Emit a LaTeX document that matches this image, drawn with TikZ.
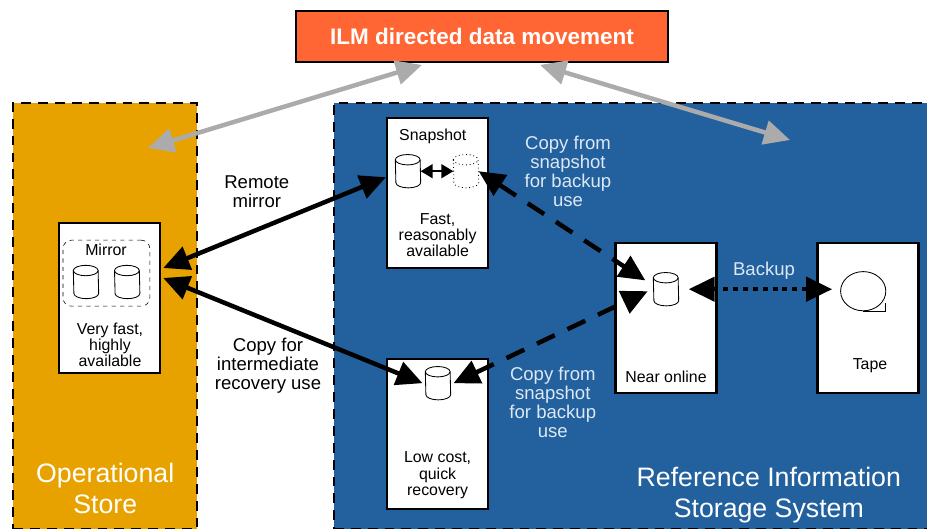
\documentclass[tikz,border=0pt]{standalone}
\usepackage{fontspec}
\setmainfont{Liberation Sans}
\usepackage{tikz}
\usetikzlibrary{shapes.geometric, arrows.meta}
\definecolor{ilmred}{HTML}{FF6633}
\definecolor{opstore}{HTML}{E8A200}
\definecolor{refstore}{HTML}{22609E}
\definecolor{movegray}{HTML}{ABABAB}
\definecolor{paletext}{HTML}{DDE8F4}
\tikzstyle{ilm} = [rectangle, draw=black, line width=1.6pt, fill=ilmred, text=white, font=\fontsize{16}{19}\selectfont\bfseries, minimum width=9.3cm, minimum height=1.27cm]
\tikzstyle{area} = [rectangle, draw=black, line width=1.8pt, dash pattern=on 7pt off 5pt]
\tikzstyle{store} = [rectangle, draw=black, line width=1.8pt, fill=white, minimum width=2.52cm, minimum height=3.75cm]
\tikzstyle{group} = [rectangle, rounded corners=6pt, draw=black, dashed, thin, minimum width=2.17cm, minimum height=1.65cm]
\tikzstyle{disk} = [rectangle, inner sep=0pt, minimum width=0.62cm, minimum height=0.82cm]
\tikzstyle{anno} = [align=center, font=\fontsize{11.3}{11.4}\selectfont]
\tikzstyle{label} = [align=center, font=\fontsize{13.2}{13.5}\selectfont]
\tikzstyle{title} = [align=center, text=white, font=\fontsize{19}{22}\selectfont]
\tikzstyle{link} = [line width=3.2pt, <->, >={Triangle[length=0.65cm,width=0.6cm]}]
\tikzstyle{move} = [line width=3.2pt, color=movegray, <->, >={Triangle[length=0.65cm,width=0.6cm]}]
\tikzstyle{diskline} = [draw=black, line width=0.6pt, fill=white]
% outline of a storage cylinder round a disk node
\newcommand{\drawdisk}[2]{
  \draw[diskline, #2] ([yshift=-0.13cm]#1.north west) arc[start angle=180, end angle=0, x radius=0.31cm, y radius=0.13cm] -- ([yshift=0.13cm]#1.south east) arc[start angle=0, end angle=-180, x radius=0.31cm, y radius=0.13cm] -- cycle;
  \draw[diskline, #2, fill=none] ([yshift=-0.13cm]#1.north west) arc[start angle=180, end angle=360, x radius=0.31cm, y radius=0.13cm];
}
\begin{document}
\begin{tikzpicture}
  \useasboundingbox (0,0) rectangle (23.175,-13.225);
  \node (orange) [area, fill=opstore, minimum width=4.6cm, minimum height=10.65cm] at (2.63,-7.9) {};
  \node (blue) [area, fill=refstore, minimum width=15.1cm, minimum height=10.65cm] at (15.9,-7.9) {};
  \node (ilm) [ilm] at (12.05,-0.91) {ILM directed data movement};
  \node (mirror) [store] at (2.74,-7.45) {};
  \node (snapshot) [store] at (10.94,-4.83) {};
  \node (low) [store] at (10.94,-10.85) {};
  \node (near) [store] at (16.65,-7.95) {};
  \node (tape) [store] at (21.7,-7.95) {};
  \node (mirrorgroup) [group] at (2.66,-6.83) {};
  \node (mirrorname) [anno] at (2.65,-6.25) {Mirror};
  \node (mirrorleft) [disk] at (2.15,-7.05) {};
  \node (mirrorright) [disk] at (3.18,-7.05) {};
  \node (mirrortext) [anno] at (2.75,-8.62) {Very fast,\\highly\\available};
  \node (snapname) [anno] at (10.82,-3.42) {Snapshot};
  \node (snapdisk) [disk] at (10.2,-4.28) {};
  \node (snapcopy) [disk] at (11.65,-4.28) {};
  \node (snaptext) [anno] at (10.94,-5.88) {Fast,\\reasonably\\available};
  \node (lowdisk) [disk] at (10.95,-9.58) {};
  \node (lowtext) [anno] at (10.94,-11.88) {Low cost,\\quick\\recovery};
  \node (neardisk) [disk] at (16.65,-7.23) {};
  \node (neartext) [anno] at (16.65,-9.42) {Near online};
  \node (reel) [ellipse, draw=black, line width=0.6pt, minimum width=1.13cm, minimum height=0.98cm, inner sep=0pt] at (21.58,-7.28) {};
  \node (tapetext) [anno] at (21.75,-9.13) {Tape};
  \node (remotelabel) [label] at (6.42,-4.8) {Remote\\mirror};
  \node (intermediatelabel) [label] at (6.7,-9.15) {Copy for\\intermediate\\recovery use};
  \node (copyupper) [label, text=paletext] at (14.2,-4.28) {Copy from\\snapshot\\for backup\\use};
  \node (copylower) [label, text=paletext] at (13.82,-10.05) {Copy from\\snapshot\\for backup\\use};
  \node (backuplabel) [label, text=paletext] at (19.1,-6.77) {Backup};
  \node (optitle) [title] at (2.63,-12.2) {Operational\\Store};
  \node (reftitle) [title] at (19.22,-12.38) {Reference Information\\Storage System};
  \drawdisk{mirrorleft}{solid}
  \drawdisk{mirrorright}{solid}
  \drawdisk{snapdisk}{solid}
  \drawdisk{snapcopy}{dotted}
  \drawdisk{lowdisk}{solid}
  \drawdisk{neardisk}{solid}
  \coordinate (opend) at (3.7,-3.7);
  \coordinate (refend) at (19.75,-3.5);
  \draw[move] (opend) -- ([xshift=-1.5cm,yshift=-0.05cm]ilm.south);
  \draw[move] ([xshift=1.45cm,yshift=-0.05cm]ilm.south) -- (refend);
  \draw[link] ([xshift=0.05cm,yshift=0.75cm]mirror.east) -- ([yshift=0.4cm]snapshot.west);
  \draw[link] ([xshift=0.05cm,yshift=0.5cm]mirror.east) -- ([xshift=-0.07cm]lowdisk.west);
  \draw[link, dash pattern=on 14pt off 10pt] (snapcopy.east) -- ([xshift=-0.2cm,yshift=0.22cm]neardisk.west);
  \draw[link, dash pattern=on 14pt off 10pt] ([xshift=0.07cm]lowdisk.east) -- ([xshift=-0.14cm,yshift=-0.05cm]neardisk.west);
  \draw[link, dash pattern=on 3.5pt off 3.5pt] ([xshift=0.25cm]neardisk.east) -- ([xshift=-0.2cm,yshift=0.05cm]reel.west);
  \draw[line width=1pt, <->, >={Triangle[length=0.3cm,width=0.35cm]}] (snapdisk.east) -- (snapcopy.west);
  \draw[line width=0.6pt] (reel.south) -- ++(0.55,0) -- ++(0,0.2);
\end{tikzpicture}
\end{document}
